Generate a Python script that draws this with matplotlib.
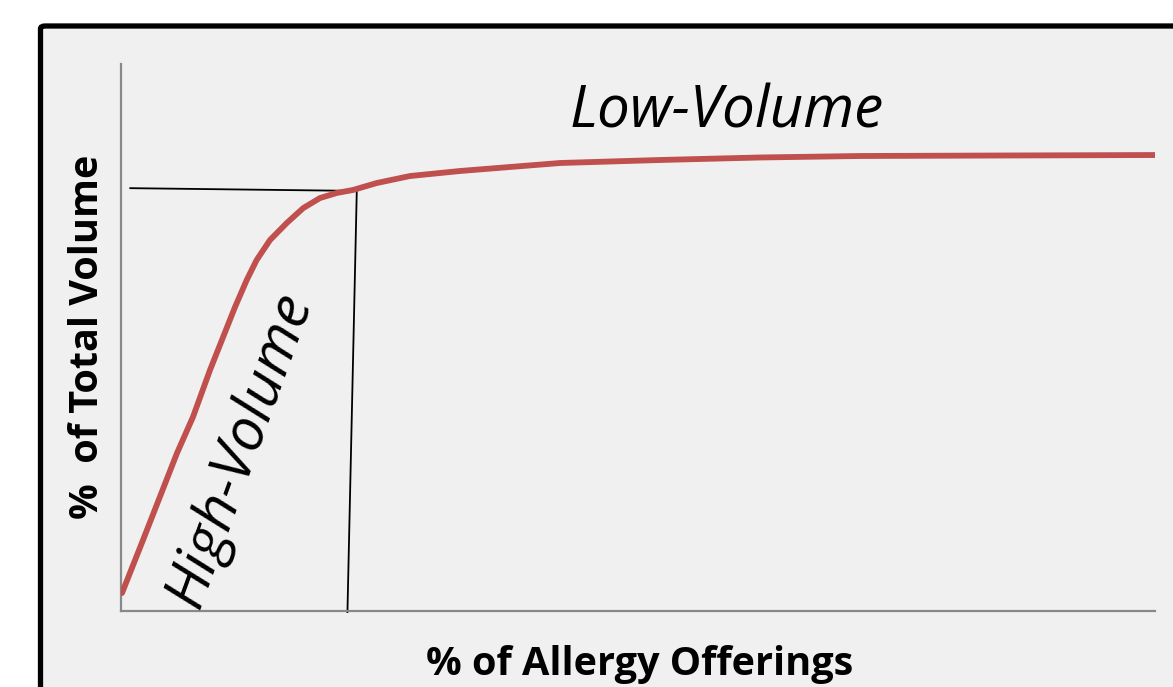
import matplotlib
matplotlib.use("Agg")
import matplotlib.pyplot as plt
from matplotlib.patches import FancyBboxPatch

# Data (% of allergy offerings vs % of total volume)
offer_pct = [0.10, 2.13, 5.42, 6.96, 8.61, 11.03, 12.16, 13.12, 14.41, 16.03,
             17.63, 19.25, 20.86, 22.44, 24.73, 27.95, 32.79, 37.62, 42.46,
             52.13, 61.80, 71.47, 85.01, 100.0]
volume_pct = [3.29, 12.98, 28.88, 35.47, 44.06, 55.58, 60.51, 64.17, 67.82,
              70.93, 73.67, 75.50, 76.42, 76.97, 78.24, 79.52, 80.44, 81.17,
              81.90, 82.45, 82.91, 83.18, 83.27, 83.36]

# Cut-off guide lines
hline_x = [0.9, 22.8]
hline_y = [77.3, 76.8]
vline_x = [22.8, 21.9]
vline_y = [76.6, -0.2]

x_label = "% of Allergy Offerings"
y_label = "%  of Total Volume"
label_high = "High-Volume"
label_low = "Low-Volume"

W, H = 1173, 687
fig = plt.figure(figsize=(W / 100, H / 100), dpi=100)
fig.patch.set_facecolor("white")

# Grey panel with black border
panel = FancyBboxPatch((40.5 / W, -0.2), 1.2, 1 - 26 / H + 0.2,
                       boxstyle="round,pad=0,rounding_size=0.004",
                       transform=fig.transFigure, facecolor="#f0f0f0",
                       edgecolor="black", linewidth=3.8, zorder=-5)
fig.add_artist(panel)

ax = fig.add_axes([121 / W, 1 - 611 / H, (1155 - 121) / W, (611 - 64) / H])
ax.set_zorder(2)
ax.set_facecolor("none")
ax.set_xlim(0, 100)
ax.set_ylim(0, 100)
for s in ["top", "right"]:
    ax.spines[s].set_visible(False)
for s in ["left", "bottom"]:
    ax.spines[s].set_color("#888888")
    ax.spines[s].set_linewidth(1.6)
ax.set_xticks([])
ax.set_yticks([])

ax.plot(offer_pct, volume_pct, color="#c0504d", linewidth=4.2,
        solid_capstyle="round", solid_joinstyle="round", zorder=3)
ax.plot(hline_x, hline_y, color="black", linewidth=1.3, zorder=2)
ax.plot(vline_x, vline_y, color="black", linewidth=1.3, zorder=2, clip_on=False)

fam = ["Open Sans", "DejaVu Sans"]
fig.text(727 / W, 1 - 128 / H, label_low, fontsize=42, style="italic",
         family=fam, ha="center", va="baseline", zorder=5)
fig.text(240 / W, 1 - 450 / H, label_high, fontsize=42, style="italic",
         family=fam, ha="center", va="center", rotation=70,
         rotation_mode="anchor", zorder=5)
fig.text(640 / W, 1 - 675 / H, x_label, fontsize=28.5, fontweight="bold",
         family=fam, ha="center", va="baseline", zorder=5)
fig.text(88 / W, 1 - 337 / H, y_label, fontsize=28.5, fontweight="bold",
         family=fam, ha="center", va="center", rotation=90, zorder=5)

fig.savefig("out.png", dpi=100)
